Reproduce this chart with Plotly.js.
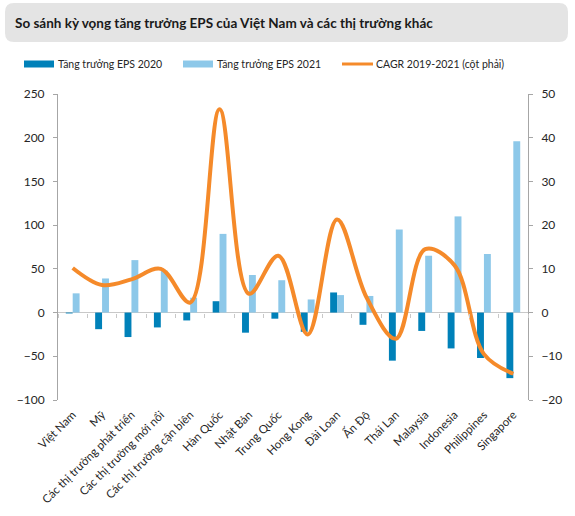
<!DOCTYPE html>
<html>
<head>
<meta charset="utf-8">
<script src="https://cdn.plot.ly/plotly-3.0.1.min.js"></script>
<style>html,body{margin:0;padding:0;background:#fff;}#chart{width:575px;height:516px;}</style>
</head>
<body>
<div id="chart"></div>
<script>
const categories = ["Việt Nam","Mỹ","Các thị trường phát triển","Các thị trường mới nổi","Các thị trường cận biên","Hàn Quốc","Nhật Bản","Trung Quốc","Hong Kong","Đài Loan","Ấn Độ","Thái Lan","Malaysia","Indonesia","Philippines","Singapore"];
const eps2020 = [-1, -19, -28, -17, -9, 13, -23, -7, -22, 23, -14, -55, -21, -41, -52, -75];
const eps2021 = [22, 39, 60, 48, 17, 90, 43, 37, 15, 20, 19, 95, 65, 110, 67, 196];
const cagr = [10.2, 6.3, 7.6, 10, 2.3, 46.5, 4.3, 13, -5, 21.3, 3.5, -6, 14.5, 10.8, -9.5, -14];
const leftTicks = [-100, -50, 0, 50, 100, 150, 200, 250];
const rightTicks = [-20, -10, 0, 10, 20, 30, 40, 50];
const seriesNames = ["Tăng trưởng EPS 2020", "Tăng trưởng EPS 2021", "CAGR 2019-2021 (cột phải)"];
const titleText = "So sánh kỳ vọng tăng trưởng EPS của Việt Nam và các thị trường khác";

const W = 575, H = 516, L = 58, R = 528, T = 94, B = 400;
const px = p => (p - L) / (R - L);
const py = p => (B - p) / (B - T);

const C1 = '#0081B9', C2 = '#8DC8E9', C3 = '#F58A2A', AX = '#A6A6A6';
const FONT = "Lato, 'Noto Sans', sans-serif";

const traces = [
  {type:'bar', name:seriesNames[0], x:categories, y:eps2020, marker:{color:C1}, xaxis:'x', yaxis:'y', hoverinfo:'skip'},
  {type:'bar', name:seriesNames[1], x:categories, y:eps2021, marker:{color:C2}, xaxis:'x', yaxis:'y', hoverinfo:'skip'},
  {type:'scatter', mode:'lines', name:seriesNames[2], x:categories, y:cagr, line:{color:C3, width:4, shape:'spline', smoothing:1}, xaxis:'x2', yaxis:'y2', hoverinfo:'skip'}
];

function roundRect(x0, y0, x1, y1, r) {
  const X = p => px(p), Y = p => py(p);
  return `M ${X(x0+r)} ${Y(y0)} L ${X(x1-r)} ${Y(y0)} Q ${X(x1)} ${Y(y0)} ${X(x1)} ${Y(y0+r)} L ${X(x1)} ${Y(y1-r)} Q ${X(x1)} ${Y(y1)} ${X(x1-r)} ${Y(y1)} L ${X(x0+r)} ${Y(y1)} Q ${X(x0)} ${Y(y1)} ${X(x0)} ${Y(y1-r)} L ${X(x0)} ${Y(y0+r)} Q ${X(x0)} ${Y(y0)} ${X(x0+r)} ${Y(y0)} Z`;
}

const legY = 64;
const shapes = [
  {type:'path', xref:'paper', yref:'paper', path:roundRect(5, 3, 568, 42, 9), fillcolor:'#E4E4E4', line:{width:0}, layer:'below'},
  {type:'rect', xref:'paper', yref:'paper', x0:px(24), x1:px(54), y0:py(legY+3.5), y1:py(legY-3.5), fillcolor:C1, line:{width:0}},
  {type:'rect', xref:'paper', yref:'paper', x0:px(183), x1:px(213), y0:py(legY+3.5), y1:py(legY-3.5), fillcolor:C2, line:{width:0}},
  {type:'line', xref:'paper', yref:'paper', x0:px(342), x1:px(373), y0:py(legY), y1:py(legY), line:{color:C3, width:3}}
];

const annotations = [
  {xref:'paper', yref:'paper', x:px(13), y:py(23), xanchor:'left', yanchor:'middle', showarrow:false, text:'<b>'+titleText+'</b>', font:{family:FONT, size:13.5, color:'#1a1a1a'}},
  {xref:'paper', yref:'paper', x:px(56), y:py(legY), xanchor:'left', yanchor:'middle', showarrow:false, text:seriesNames[0], font:{family:FONT, size:10.5, color:'#262626'}},
  {xref:'paper', yref:'paper', x:px(215), y:py(legY), xanchor:'left', yanchor:'middle', showarrow:false, text:seriesNames[1], font:{family:FONT, size:10.5, color:'#262626'}},
  {xref:'paper', yref:'paper', x:px(374), y:py(legY), xanchor:'left', yanchor:'middle', showarrow:false, text:seriesNames[2], font:{family:FONT, size:10.5, color:'#262626'}}
];

const layout = {
  width:W, height:H,
  margin:{l:L, r:W-R, t:T, b:H-B, pad:0},
  paper_bgcolor:'#fff', plot_bgcolor:'rgba(0,0,0,0)',
  font:{family:FONT, size:12, color:'#262626'},
  showlegend:false,
  barmode:'group', bargap:0.53, bargroupgap:0,
  xaxis:{type:'category', categoryarray:categories, range:[-0.5, 15.5], showline:false, showgrid:false, zeroline:false, ticks:'', tickangle:-45, tickfont:{size:11.5, color:'#262626'}, ticklabelstandoff:5, fixedrange:true},
  xaxis2:{type:'category', categoryarray:categories, overlaying:'x', anchor:'free', position:100/350, range:[-0.5, 15.5], showline:false, showgrid:false, zeroline:false, ticks:'outside', tickson:'boundaries', ticklen:4, tickcolor:'#C8C8C8', showticklabels:false, fixedrange:true},
  yaxis:{range:[-100, 250], tickvals:leftTicks, showline:true, linecolor:AX, linewidth:1, ticks:'outside', ticklen:4, tickcolor:AX, showgrid:false, zeroline:true, zerolinecolor:'#C8C8C8', zerolinewidth:1, tickfont:{size:12, color:'#262626'}, ticklabelstandoff:6, fixedrange:true},
  yaxis2:{range:[-20, 50], tickvals:rightTicks, overlaying:'y', side:'right', anchor:'x', showline:true, linecolor:AX, linewidth:1, ticks:'outside', ticklen:4, tickcolor:AX, showgrid:false, zeroline:false, tickfont:{size:12, color:'#262626'}, ticklabelstandoff:6, fixedrange:true},
  shapes:shapes,
  annotations:annotations
};

Plotly.newPlot('chart', traces, layout, {displayModeBar:false, staticPlot:true});
</script>
</body>
</html>
